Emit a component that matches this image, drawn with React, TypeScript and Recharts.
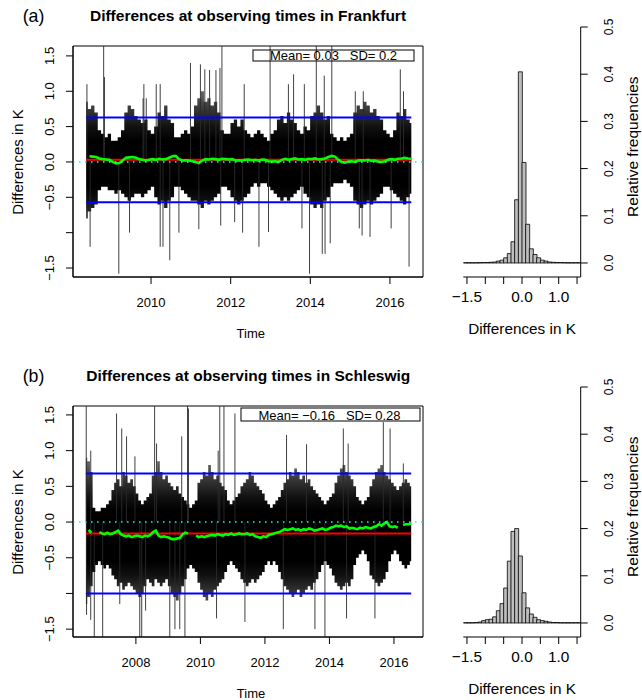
import React from "react";
import {
  Area,
  Bar,
  BarChart,
  ComposedChart,
  Line,
  ReferenceArea,
  ReferenceLine,
  XAxis,
  YAxis,
} from "recharts";

const FONT = "'Liberation Sans', Arial, Helvetica, sans-serif";
const MINUS = "\u2212";

// (a) Frankfurt, one slot per month from mid 2008
const startA = 2008.37;
const hiA = [
  0.85, 0.75, 0.8, 0.7, 0.45, 0.4, 0.35, 0.4, 0.3, 0.3, 0.35, 0.45, 0.7, 0.8, 0.75, 0.65,
  0.6, 0.55, 0.6, 0.45, 0.4, 0.5, 0.7, 0.65, 0.8, 0.6, 0.55, 0.35, 0.35, 0.4, 0.45, 0.4, 0.5,
  0.8, 0.9, 1.0, 0.85, 0.9, 0.8, 0.85, 0.7, 0.45, 0.4, 0.4, 0.55, 0.6, 0.5, 0.6, 0.45, 0.4,
  0.35, 0.4, 0.45, 0.4, 0.35, 0.3, 0.4, 0.45, 0.6, 0.65, 0.55, 0.7, 0.6, 0.55, 0.45, 0.4, 0.5,
  0.45, 0.65, 0.7, 0.8, 0.7, 0.6, 0.65, 0.4, 0.35, 0.3, 0.35, 0.3, 0.35, 0.4, 0.7, 0.8, 0.75,
  0.85, 0.8, 0.7, 0.75, 0.65, 0.6, 0.45, 0.4, 0.35, 0.45, 0.7, 0.65, 0.75, 0.6, 0.55,
];
const loA = [
  -0.8, -0.7, -0.65, -0.6, -0.4, -0.35, -0.35, -0.4, -0.4, -0.45, -0.4, -0.45, -0.5, -0.55,
  -0.5, -0.45, -0.45, -0.5, -0.45, -0.4, -0.35, -0.5, -0.6, -0.55, -0.65, -0.55, -0.5, -0.35,
  -0.35, -0.4, -0.45, -0.5, -0.55, -0.55, -0.6, -0.65, -0.55, -0.6, -0.55, -0.5, -0.45, -0.35,
  -0.35, -0.4, -0.5, -0.55, -0.6, -0.55, -0.5, -0.45, -0.35, -0.3, -0.35, -0.3, -0.3, -0.35,
  -0.4, -0.45, -0.5, -0.55, -0.5, -0.55, -0.5, -0.45, -0.4, -0.35, -0.45, -0.5, -0.6, -0.65,
  -0.6, -0.65, -0.55, -0.5, -0.35, -0.3, -0.3, -0.3, -0.25, -0.3, -0.35, -0.55, -0.6, -0.65,
  -0.6, -0.55, -0.6, -0.55, -0.5, -0.45, -0.35, -0.35, -0.4, -0.45, -0.5, -0.55, -0.6, -0.5,
  -0.45,
];
const greenA = [
  null, 0.08, 0.075, 0.07, 0.05, 0.04, 0.035, 0.03, 0.0, -0.02,
  -0.015, 0.02, 0.06, 0.065, 0.07, 0.06, 0.04, 0.03, 0.02, 0.03,
  0.04, 0.03, 0.045, 0.035, 0.04, 0.06, 0.08, 0.085, 0.04, 0.02,
  0.025, 0.02, 0.01, 0.0, -0.015, 0.02, 0.04, 0.035, 0.045, 0.04,
  0.03, 0.045, 0.04, 0.035, 0.04, 0.02, 0.025, 0.02, 0.03, 0.035,
  0.025, 0.03, 0.02, 0.035, 0.03, 0.01, 0.005, 0.01, 0.0, 0.03,
  0.045, 0.03, 0.04, 0.05, 0.035, 0.04, 0.03, 0.045, 0.04, 0.05,
  0.035, 0.04, 0.05, 0.07, 0.085, 0.075, 0.03, 0.0, -0.01, 0.005,
  0.01, 0.0, 0.02, 0.025, 0.02, 0.03, 0.015, 0.02, 0.005, 0.0,
  0.01, 0.03, 0.04, 0.03, 0.045, 0.05, 0.06, 0.05, 0.045,
];
// single days that stick out of the dense band: [time, difference]
const spikesA = [
  [2008.39, 1.1], [2008.47, -1.2], [2008.81, 1.7], [2008.83, 1.2], [2009.19, -1.58],
  [2009.46, -1.0], [2009.8, 0.9], [2009.82, 1.1], [2009.88, 0.9], [2010.13, 1.1],
  [2010.23, -1.2], [2010.23, 1.1], [2010.3, -1.2], [2010.47, -1.39], [2010.7, -1.0],
  [2010.99, 1.4], [2011.2, -0.95], [2011.24, 1.38], [2011.35, 1.31], [2011.47, 1.3],
  [2011.63, 1.3], [2011.73, 1.33], [2011.75, -0.9], [2011.78, 1.7], [2012.1, -0.85],
  [2012.3, -1.0], [2012.34, 1.1], [2012.71, -1.2], [2012.95, -0.99], [2012.99, 1.7],
  [2013.45, 1.1], [2013.58, 1.24], [2013.79, -0.94], [2013.85, 1.1], [2013.98, -1.58],
  [2014.15, 1.7], [2014.3, -1.3], [2014.35, 1.22], [2014.37, -1.3], [2014.5, -1.15],
  [2014.54, 1.7], [2015.13, 1.0], [2015.23, -0.94], [2015.3, -1.04], [2015.33, 1.0],
  [2015.5, -1.06], [2016.03, -0.94], [2016.26, 1.31], [2016.34, 1.0], [2016.48, -1.48],
];
const meanA = 0.03;
const sdA = 0.2;

// (b) Schleswig, one slot per month from mid 2006
const startB = 2006.45;
const hiB = [
  0.9, 0.85, 0.7, 0.2, 0.15, 0.15, 0.2, 0.2, 0.25, 0.3, 0.45, 0.55, 0.6, 0.5, 0.7, 0.65, 0.55,
  0.6, 0.5, 0.4, 0.3, 0.25, 0.3, 0.35, 0.4, 0.65, 0.7, 0.85, 0.7, 0.6, 0.65, 0.55, 0.5, 0.45,
  0.5, 0.4, 0.35, 0.3, 0.25, 0.2, 0.25, 0.3, 0.55, 0.6, 0.7, 0.65, 0.8, 0.7, 0.6, 0.65, 0.55,
  0.5, 0.45, 0.3, 0.25, 0.3, 0.35, 0.4, 0.5, 0.55, 0.6, 0.7, 0.65, 0.55, 0.5, 0.45, 0.4, 0.3,
  0.25, 0.2, 0.25, 0.3, 0.35, 0.45, 0.55, 0.6, 0.7, 0.65, 0.75, 0.7, 0.6, 0.65, 0.55, 0.6, 0.5,
  0.45, 0.4, 0.35, 0.3, 0.25, 0.3, 0.35, 0.4, 0.55, 0.65, 0.75, 0.8, 0.7, 0.65, 0.6, 0.5, 0.35,
  0.3, 0.25, 0.3, 0.35, 0.5, 0.6, 0.7, 0.75, 0.8, 0.7, 0.65, 0.6, 0.55, 0.5, 0.45, 0.5, 0.55,
  0.6, 0.55, 0.5,
];
const loB = [
  -1.15, -1.05, -0.9, -0.7, -0.6, -0.55, -0.6, -0.65, -0.6, -0.65, -0.75, -0.8, -0.9, -0.85,
  -0.95, -0.9, -0.85, -0.9, -0.95, -1.0, -1.05, -1.0, -0.9, -0.8, -0.85, -0.9, -0.8, -0.85,
  -0.9, -0.85, -0.8, -0.9, -1.0, -1.05, -1.1, -1.0, -0.9, -0.8, -0.65, -0.6, -0.65, -0.7,
  -0.85, -0.95, -1.05, -1.1, -1.0, -1.05, -0.95, -0.9, -0.85, -0.8, -0.7, -0.6, -0.55, -0.6,
  -0.65, -0.7, -0.8, -0.85, -0.9, -0.85, -0.8, -0.85, -0.8, -0.75, -0.7, -0.6, -0.55, -0.6,
  -0.55, -0.6, -0.7, -0.8, -0.9, -0.95, -1.0, -1.05, -1.0, -0.95, -1.05, -1.0, -0.95, -0.9,
  -0.95, -0.85, -0.8, -0.7, -0.6, -0.55, -0.6, -0.65, -0.75, -0.85, -0.9, -0.95, -0.9, -0.85,
  -0.9, -0.8, -0.6, -0.5, -0.45, -0.4, -0.45, -0.55, -0.75, -0.8, -0.85, -0.9, -0.85, -0.8,
  -0.7, -0.55, -0.45, -0.4, -0.45, -0.55, -0.6, -0.65, -0.6, -0.55,
];
const greenB = [
  null, -0.11, -0.15, null, null, -0.14, -0.16, -0.17, -0.15, -0.17,
  -0.16, -0.14, -0.12, -0.17, -0.19, -0.2, -0.19, -0.21, -0.2, -0.19,
  -0.2, -0.21, -0.19, -0.2, -0.18, -0.14, -0.12, -0.19, -0.21, -0.2,
  -0.21, -0.22, -0.24, -0.24, -0.23, -0.22, -0.17, -0.15, -0.16, null,
  null, -0.19, -0.21, -0.2, -0.21, -0.2, -0.19, -0.18, -0.19, -0.17,
  -0.18, -0.19, -0.17, -0.18, -0.16, -0.18, -0.17, -0.16, -0.17, -0.17,
  -0.16, -0.18, -0.17, -0.2, -0.21, -0.22, -0.2, -0.21, -0.18, -0.17,
  -0.16, -0.15, -0.14, -0.12, -0.1, -0.11, -0.1, -0.09, -0.11, -0.1,
  -0.12, -0.1, -0.11, -0.09, -0.1, -0.12, -0.11, -0.1, -0.09, -0.11,
  -0.1, -0.08, -0.07, -0.05, -0.06, -0.05, -0.07, -0.06, -0.09, -0.08,
  -0.09, -0.1, -0.08, -0.09, -0.07, -0.08, -0.09, -0.07, -0.06, -0.03,
  -0.05, -0.02, 0.0, -0.06, -0.07, -0.06, -0.08, null, -0.04, -0.03,
  -0.03, -0.02,
];
const spikesB = [
  [2006.46, 1.7], [2006.6, 1.0], [2007.4, 1.52], [2007.56, 1.31], [2007.71, 1.2],
  [2007.97, 0.92], [2008.58, 1.7], [2008.64, 1.1], [2009.42, 1.2], [2009.6, 1.7],
  [2009.63, 1.59], [2010.55, 1.0], [2010.6, 1.7], [2010.73, 1.7], [2011.07, 1.52],
  [2012.67, 1.22], [2013.29, 1.09], [2014.43, 1.31], [2014.58, 1.1], [2015.67, 1.4],
  [2015.88, 1.31], [2016.29, 0.82],
  [2006.47, -1.3], [2006.6, -1.37], [2006.71, -1.7], [2006.97, -1.7], [2007.5, -1.15],
  [2008.12, -1.7], [2008.18, -1.7], [2008.3, -1.24], [2009.05, -1.7], [2009.21, -1.5],
  [2009.36, -1.5], [2009.52, -1.7], [2010.5, -1.35], [2011.38, -1.4], [2012.57, -1.5],
  [2013.55, -1.5], [2013.86, -1.7], [2014.53, -1.35], [2015.41, -1.35],
];
const meanB = -0.16;
const sdB = 0.28;

// histograms: relative frequency per 0.1 K bin
const binMids = [
  -1.55, -1.45, -1.35, -1.25, -1.15, -1.05, -0.95, -0.85, -0.75, -0.65, -0.55, -0.45, -0.35,
  -0.25, -0.15, -0.05, 0.05, 0.15, 0.25, 0.35, 0.45, 0.55, 0.65, 0.75, 0.85, 0.95, 1.05, 1.15,
  1.25, 1.35, 1.45, 1.55,
];
const histA = [
  0.0005, 0.0005, 0.0005, 0.0005, 0.0007, 0.001, 0.001, 0.0015, 0.002, 0.004, 0.006, 0.011,
  0.02, 0.045, 0.134, 0.405, 0.213, 0.082, 0.03, 0.018, 0.011, 0.006, 0.004, 0.002, 0.0015,
  0.001, 0.001, 0.0007, 0.0005, 0.0005, 0.0005, 0.0005,
];
const histB = [
  0.0005, 0.0005, 0.0005, 0.001, 0.002, 0.005, 0.007, 0.008, 0.013, 0.026, 0.041, 0.074,
  0.131, 0.194, 0.2, 0.142, 0.064, 0.032, 0.019, 0.012, 0.007, 0.005, 0.0035, 0.002, 0.001,
  0.001, 0.0005, 0.0005, 0.0005, 0.0005, 0.0005, 0.0005,
];

const yTicksTS = [-1.5, -1, -0.5, 0, 0.5, 1, 1.5];
const xTicksA = [2010, 2012, 2014, 2016];
const xTicksB = [2008, 2010, 2012, 2014, 2016];
const histXTicks = [-1.5, -1, -0.5, 0, 0.5, 1, 1.5];
const histXLabels = [-1.5, 0, 1];
const histYTicks = [0, 0.1, 0.2, 0.3, 0.4, 0.5];

const fmt = (v: number) => (v < 0 ? MINUS : "") + Math.abs(v).toFixed(1);

const TS_W = 430;
const TS_H = 345;
const TOP = 46;
const BOTTOM = 277;

function LeftTick(p: any) {
  const v = p.payload.value;
  if (Math.abs(v + 1) < 1e-9) return <g />;
  const x = p.x - 10;
  return (
    <text x={x} y={p.y} transform={`rotate(-90 ${x} ${p.y})`} textAnchor="middle"
      fontSize={13} fontFamily={FONT} fill="#000">
      {fmt(v)}
    </text>
  );
}

function YearTick(p: any) {
  return (
    <text x={p.x} y={p.y + 20.5} textAnchor="middle" fontSize={13} fontFamily={FONT} fill="#000">
      {p.payload.value}
    </text>
  );
}

function HistXTick(p: any) {
  const v = p.payload.value;
  if (!histXLabels.some((l) => Math.abs(l - v) < 1e-9)) return <g />;
  return (
    <text x={p.x} y={p.y + 15.7} textAnchor="middle" fontSize={15.4} fontFamily={FONT} fill="#000">
      {fmt(v)}
    </text>
  );
}

function HistYTick(p: any) {
  const x = p.x + 23;
  return (
    <text x={x} y={p.y} transform={`rotate(-90 ${x} ${p.y})`} textAnchor="middle"
      fontSize={12} fontFamily={FONT} fill="#000">
      {fmt(p.payload.value)}
    </text>
  );
}

type SeriesProps = {
  id: string;
  start: number;
  hi: number[];
  lo: number[];
  green: (number | null)[];
  spikes: number[][];
  mean: number;
  sd: number;
  xDomain: [number, number];
  yDomain: [number, number];
  xTicks: number[];
  coreHi: number;
  coreLo: number;
};

function SeriesPanel(props: SeriesProps) {
  const { id, start, hi, lo, green, spikes, mean, sd, xDomain, yDomain, xTicks, coreHi, coreLo } = props;
  const rows = hi.map((h, i) => ({ t: start + i / 12, band: [lo[i], h], g: green[i] }));
  const tEnd = rows[rows.length - 1].t;
  const off = (v: number) => Math.min(1, Math.max(0, (yDomain[1] - v) / (yDomain[1] - yDomain[0])));
  const up = mean + 3 * sd;
  const down = mean - 3 * sd;

  return (
    <ComposedChart width={TS_W} height={TS_H} data={rows}
      margin={{ top: TOP, right: 7, bottom: 0, left: 0 }}>
      <defs>
        <linearGradient id={id} gradientUnits="userSpaceOnUse" x1="0" y1={TOP} x2="0" y2={BOTTOM}>
          <stop offset={off(coreHi + 0.9)} stopColor="#8a8a8a" />
          <stop offset={off(coreHi + 0.5)} stopColor="#404040" />
          <stop offset={off(coreHi + 0.2)} stopColor="#111" />
          <stop offset={off(coreHi)} stopColor="#000" />
          <stop offset={off(coreLo)} stopColor="#000" />
          <stop offset={off(coreLo - 0.2)} stopColor="#111" />
          <stop offset={off(coreLo - 0.5)} stopColor="#404040" />
          <stop offset={off(coreLo - 0.9)} stopColor="#8a8a8a" />
        </linearGradient>
      </defs>
      <XAxis type="number" dataKey="t" domain={xDomain} allowDataOverflow ticks={xTicks}
        height={68} tickSize={7} stroke="#000" tick={<YearTick />} interval={0} />
      <YAxis type="number" domain={yDomain} allowDataOverflow ticks={yTicksTS} width={73}
        tickSize={7} stroke="#000" tick={<LeftTick />} interval={0} />
      <Area dataKey="band" type="step" stroke="none" fill={`url(#${id})`} fillOpacity={1}
        isAnimationActive={false} />
      {spikes.map(([t, v], i) => (
        <ReferenceLine key={i} segment={[{ x: t, y: 0 }, { x: t, y: v }]} stroke="#2a2a2a"
          strokeWidth={0.9} ifOverflow="hidden" />
      ))}
      <ReferenceLine segment={[{ x: start, y: up }, { x: tEnd, y: up }]} stroke="#0000ff" strokeWidth={2} />
      <ReferenceLine segment={[{ x: start, y: down }, { x: tEnd, y: down }]} stroke="#0000ff" strokeWidth={2} />
      <ReferenceLine segment={[{ x: start, y: mean }, { x: tEnd, y: mean }]} stroke="#ff0000" strokeWidth={2} />
      <Line dataKey="g" type="linear" stroke="#00ff00" strokeWidth={2.6} dot={false}
        connectNulls={false} isAnimationActive={false} />
      <ReferenceLine y={0} stroke="#00ffff" strokeWidth={1.5} strokeDasharray="1.5 4.5" />
      <ReferenceArea x1={xDomain[0]} x2={xDomain[1]} y1={yDomain[0]} y2={yDomain[1]}
        fill="none" stroke="#000" strokeWidth={1} ifOverflow="visible" />
    </ComposedChart>
  );
}

// histogram plot area: bins from -1.6 to 1.6, the x axis sits a little
// below the bar baseline as in R's hist()
const HX: [number, number] = [-1.6, 1.6];
const HY: [number, number] = [-0.0297, 0.5];

function HistPanel({ freqs }: { freqs: number[] }) {
  const rows = binMids.map((m, i) => ({ m, f: freqs[i] }));
  const line = { stroke: "#000", strokeWidth: 1 };
  return (
    <BarChart width={202} height={345} data={rows} barCategoryGap={0} barGap={0}
      margin={{ top: 27, right: 0, bottom: 0, left: 23.3 }}>
      <XAxis type="number" dataKey="m" domain={HX} allowDataOverflow
        ticks={histXTicks} interval={0} height={68} axisLine={line} tickLine={line}
        tickSize={7} stroke="#000" tick={<HistXTick />} />
      <YAxis orientation="right" type="number" domain={HY} allowDataOverflow
        ticks={histYTicks} interval={0} width={61.3} axisLine={line} tickLine={line}
        tickSize={7} stroke="#000" tick={<HistYTick />} />
      <Bar dataKey="f" fill="#bebebe" stroke="#000" strokeWidth={0.8} isAnimationActive={false} />
    </BarChart>
  );
}

const txt = { fontFamily: FONT, fill: "#000" };

export default function App() {
  return (
    <div style={{ position: "absolute", left: 0, top: 0, width: 642, height: 700, background: "#fff" }}>
      <div style={{ position: "absolute", left: 0, top: 0 }}>
        <SeriesPanel id="gradA" start={startA} hi={hiA} lo={loA} green={greenA} spikes={spikesA}
          mean={meanA} sd={sdA} xDomain={[2008.04, 2016.83]} yDomain={[-1.627, 1.64]}
          xTicks={xTicksA} coreHi={0.3} coreLo={-0.35} />
      </div>
      <div style={{ position: "absolute", left: 0, top: 360 }}>
        <SeriesPanel id="gradB" start={startB} hi={hiB} lo={loB} green={greenB} spikes={spikesB}
          mean={meanB} sd={sdB} xDomain={[2006.05, 2016.9]} yDomain={[-1.61, 1.625]}
          xTicks={xTicksB} coreHi={0.15} coreLo={-0.55} />
      </div>
      <div style={{ position: "absolute", left: 440, top: 0 }}>
        <HistPanel freqs={histA} />
      </div>
      <div style={{ position: "absolute", left: 440, top: 360 }}>
        <HistPanel freqs={histB} />
      </div>
      <svg width={642} height={700} style={{ position: "absolute", left: 0, top: 0, pointerEvents: "none" }}>
        <text x={22.7} y={22} fontSize={17.7} {...txt}>(a)</text>
        <text x={248} y={20.7} fontSize={15.5} fontWeight="bold" textAnchor="middle" {...txt}>
          Differences at observing times in Frankfurt
        </text>
        <text x={22.7} y={382} fontSize={17.7} {...txt}>(b)</text>
        <text x={248.3} y={380.7} fontSize={15.5} fontWeight="bold" textAnchor="middle" {...txt}>
          Differences at observing times in Schleswig
        </text>

        <text x={22.5} y={162} transform="rotate(-90 22.5 162)" fontSize={15} textAnchor="middle" {...txt}>
          Differences in K
        </text>
        <text x={22.5} y={522} transform="rotate(-90 22.5 522)" fontSize={15} textAnchor="middle" {...txt}>
          Differences in K
        </text>
        <text x={250.8} y={337.5} fontSize={13} textAnchor="middle" {...txt}>Time</text>
        <text x={251} y={697.5} fontSize={13} textAnchor="middle" {...txt}>Time</text>

        <rect x={253} y={50} width={161} height={11} fill="none" stroke="#000" strokeWidth={1} />
        <text x={333.5} y={59.8} fontSize={13} textAnchor="middle" {...txt}>
          Mean= 0.03{"\u00a0\u00a0\u00a0"}SD= 0.2
        </text>
        <rect x={241} y={408} width={179} height={13} fill="none" stroke="#000" strokeWidth={1} />
        <text x={329.5} y={420} fontSize={13} textAnchor="middle" {...txt}>
          Mean= {MINUS}0.16{"\u00a0\u00a0\u00a0"}SD= 0.28
        </text>

        <text x={522} y={333.5} fontSize={15.3} textAnchor="middle" {...txt}>Differences in K</text>
        <text x={522} y={693.5} fontSize={15.3} textAnchor="middle" {...txt}>Differences in K</text>
        <text x={638.3} y={146.7} transform="rotate(-90 638.3 146.7)" fontSize={15.5} textAnchor="middle" {...txt}>
          Relative frequencies
        </text>
        <text x={638.3} y={506.7} transform="rotate(-90 638.3 506.7)" fontSize={15.5} textAnchor="middle" {...txt}>
          Relative frequencies
        </text>
      </svg>
    </div>
  );
}
